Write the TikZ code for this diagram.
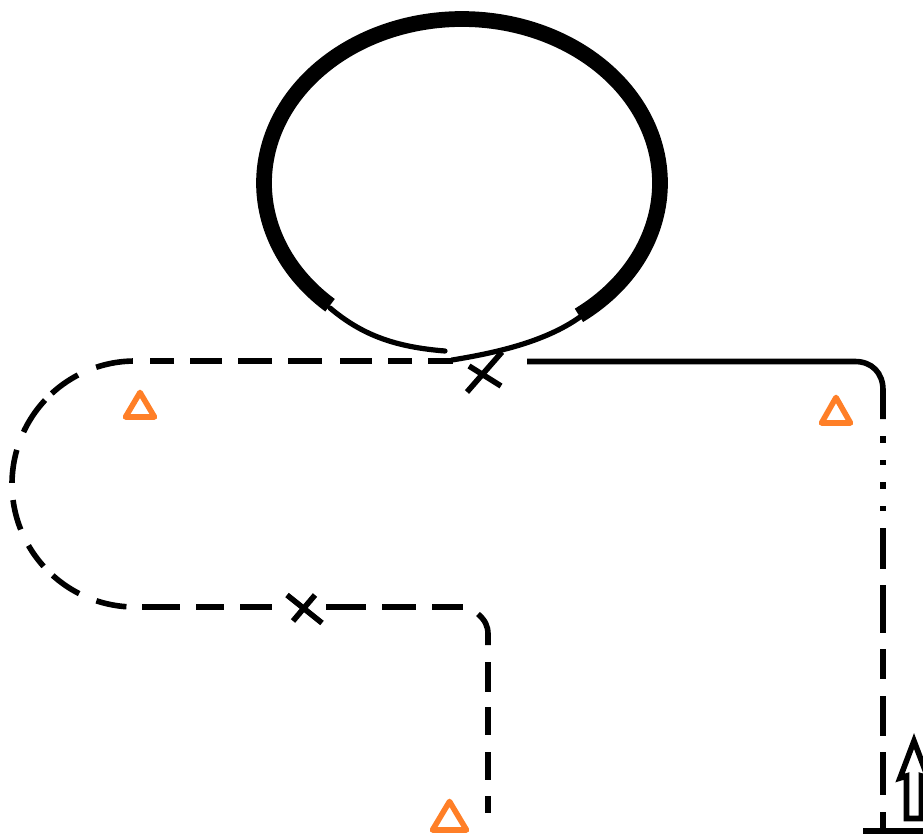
\documentclass[tikz,border=0pt]{standalone}
\definecolor{tri}{HTML}{FF7F27}
\tikzset{
  x=0.75pt,y=-0.75pt,
  ln/.style={line width=4.2pt,black},
  thin curve/.style={line width=3.9pt,black,line cap=round},
  ring/.style={line width=11.8pt,black},
  mark cross/.style={line width=4.2pt,black},
  marker/.style={line width=4.2pt,tri,line join=round},
  arrow body/.style={line width=4.2pt,black,line join=miter},
}
\begin{document}
\begin{tikzpicture}
\useasboundingbox (0,0) rectangle (923,836);
\clip (0,0) rectangle (923,836);
% ring
\draw[ring] plot[domain=-53.8:228.2,samples=120,smooth] ({462+198*cos(\x)},{183-164*sin(\x)});
\draw[thin curve] (330,308) .. controls (362,335) and (395,347) .. (445,351);
\draw[thin curve] (452,360) .. controls (495,353) and (545,342) .. (580,317);
% crosses
\draw[mark cross] (467,392) -- (502,352);
\draw[mark cross] (469,366) -- (501,386);
\draw[mark cross] (287,595) -- (322,623);
\draw[mark cross] (315,595) -- (293,621);
% upper dashed line, right to left
\draw[ln] (453,361) -- (428,361) (412,361) -- (388,361) (372,361) -- (340,361)
  (322,361) -- (288,361) (272,361) -- (238,361) (222,361) -- (190,361) (174,361) -- (150,361);
% big left arc
\foreach \a/\b in {91/108.4,117.6/132.6,137/155,163.9/179.5,187.5/201.7,210/222,228/243,251.7/266}
  \draw[ln] plot[domain=\a:\b,samples=14,smooth] ({135+123*cos(\x)},{484-123*sin(\x)});
% lower dashed line
\draw[ln] (142,607) -- (180,607) (196,607) -- (224,607) (240,607) -- (272,607)
  (326,607) -- (366,607) (382,607) -- (416,607) (432,607) -- (463,607);
\draw[ln] (478,614) .. controls (485,620) and (488,626) .. (488,634) -- (488,645);
\draw[ln] (488,662) -- (488,692) (488,707) -- (488,735) (488,752) -- (488,780) (488,796) -- (488,813);
% solid line and right dash-dot line
\draw[ln] (527,361.5) -- (855,361.5) .. controls (872,361.5) and (883,373) .. (883,390) -- (883,419);
\draw[ln] (883,436) -- (883,443) (883,460) -- (883,465) (883,482) -- (883,489) (883,506) -- (883,511)
  (883,528) -- (883,569) (883,585) -- (883,633) (883,649) -- (883,679) (883,696) -- (883,736)
  (883,752) -- (883,795) (883,812) -- (883,831);
\draw[ln] (863,831) -- (930,831);
% arrow
\draw[arrow body] (906.5,818.5) -- (906.5,776) -- (900,778) -- (914,741) -- (928,778) -- (921.5,776) -- (921.5,818.5) -- cycle;
% triangles
\draw[marker] (140,392.5) -- (125.5,417) -- (154.5,417) -- cycle;
\draw[marker] (836,397.5) -- (821.5,423) -- (850.5,423) -- cycle;
\draw[marker] (449.5,801.5) -- (432.5,830) -- (466.5,830) -- cycle;
\end{tikzpicture}
\end{document}
